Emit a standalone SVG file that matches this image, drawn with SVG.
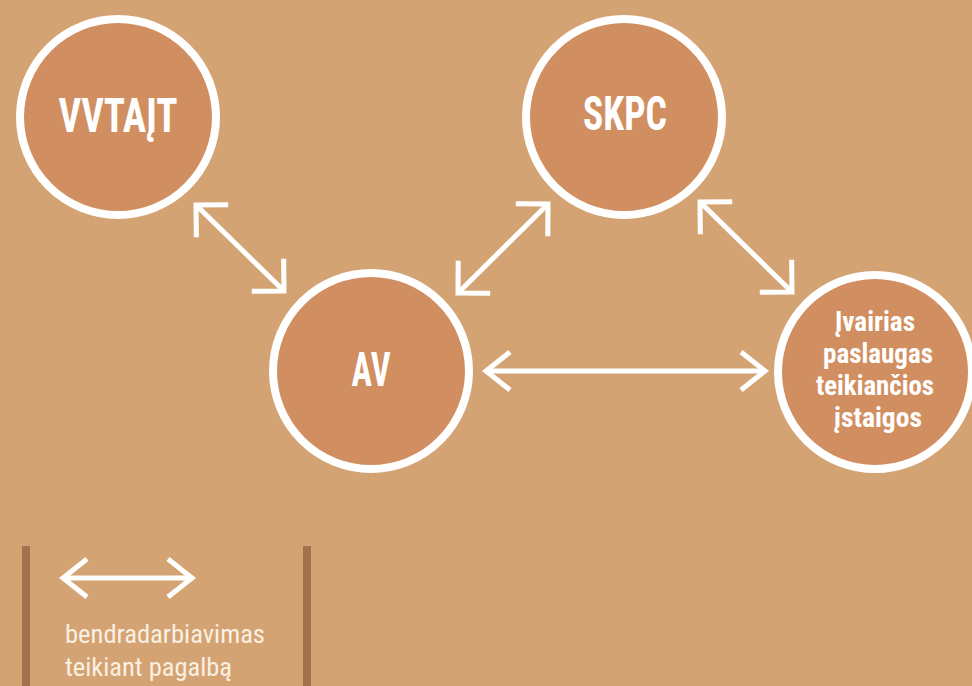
<svg xmlns="http://www.w3.org/2000/svg" width="972" height="686" viewBox="0 0 972 686">
<defs>
<style>
.node circle{fill:#D18F61;stroke:#FFFFFF;stroke-width:8}
.lbl{font-family:"Roboto Condensed","Roboto","Liberation Sans Narrow",sans-serif;font-weight:bold;fill:#FFFFFF;text-anchor:middle}
.big{font-size:48px}
.small{font-size:27px}
.conn line{stroke:#FFFFFF;stroke-width:5;fill:none}
.leg{font-family:"Roboto Condensed","Roboto","Liberation Sans Narrow",sans-serif;font-size:26px;fill:#FAF0E2}
</style>
<marker id="hd" viewBox="-40 -40 50 80" markerWidth="50" markerHeight="80" refX="0" refY="0" markerUnits="userSpaceOnUse" orient="auto-start-reverse">
<path d="M-21,-21 L0,0 L-21,21" fill="none" stroke="#FFFFFF" stroke-width="5" stroke-linecap="square" stroke-linejoin="miter"/>
</marker>
<marker id="hh" viewBox="-40 -40 50 80" markerWidth="50" markerHeight="80" refX="0" refY="0" markerUnits="userSpaceOnUse" orient="auto-start-reverse">
<path d="M-25,-19 L-1,0 L-25,19" fill="none" stroke="#FFFFFF" stroke-width="5" stroke-linejoin="miter"/>
</marker>
</defs>
<rect width="972" height="686" fill="#D4A373"/>
<g id="connectors" class="conn">
<line x1="196" y1="205" x2="284" y2="291" marker-start="url(#hd)" marker-end="url(#hd)"/>
<line x1="548" y1="204" x2="458" y2="293" marker-start="url(#hd)" marker-end="url(#hd)"/>
<line x1="700" y1="202" x2="792" y2="292" marker-start="url(#hd)" marker-end="url(#hd)"/>
<line x1="485" y1="371" x2="766" y2="371" marker-start="url(#hh)" marker-end="url(#hh)"/>
</g>
<g id="node-vvtait" class="node">
<circle cx="118" cy="117" r="98"/>
<text class="lbl big" x="118" y="132" textLength="119" lengthAdjust="spacingAndGlyphs">VVTAĮT</text>
</g>
<g id="node-skpc" class="node">
<circle cx="624" cy="117" r="98"/>
<text class="lbl big" x="625" y="130" textLength="84" lengthAdjust="spacingAndGlyphs">SKPC</text>
</g>
<g id="node-av" class="node">
<circle cx="371" cy="371" r="98"/>
<text class="lbl big" x="371" y="386" textLength="39" lengthAdjust="spacingAndGlyphs">AV</text>
</g>
<g id="node-istaigos" class="node">
<circle cx="875" cy="372" r="97"/>
<text class="lbl small" x="875" y="331" textLength="80" lengthAdjust="spacingAndGlyphs">Įvairias</text>
<text class="lbl small" x="878" y="363" textLength="110" lengthAdjust="spacingAndGlyphs">paslaugas</text>
<text class="lbl small" x="875" y="395" textLength="118" lengthAdjust="spacingAndGlyphs">teikiančios</text>
<text class="lbl small" x="878" y="427" textLength="88" lengthAdjust="spacingAndGlyphs">įstaigos</text>
</g>
<g id="legend">
<rect x="22" y="546" width="8" height="140" fill="#A2714E"/>
<rect x="303" y="546" width="8" height="140" fill="#A2714E"/>
<g class="conn"><line x1="62" y1="578" x2="193" y2="578" marker-start="url(#hh)" marker-end="url(#hh)"/></g>
<text class="leg" x="65" y="643" textLength="200" lengthAdjust="spacingAndGlyphs">bendradarbiavimas</text>
<text class="leg" x="65" y="676" textLength="167" lengthAdjust="spacingAndGlyphs">teikiant pagalbą</text>
</g>
</svg>
